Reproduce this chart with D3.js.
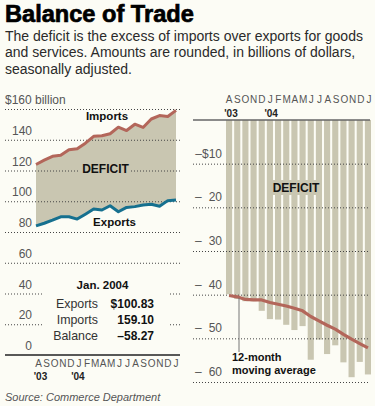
<!DOCTYPE html>
<html><head><meta charset="utf-8">
<script src="https://cdn.jsdelivr.net/npm/d3@7"></script>
<style>
html,body{margin:0;padding:0;background:#fcfcf5;}
svg{display:block;font-family:"Liberation Sans",Arial,Helvetica,sans-serif;}
</style></head>
<body>
<svg id="c" width="375" height="406"></svg>
<script>
// ---- data ----
const months = ["A","S","O","N","D","J","F","M","A","M","J","J","A","S","O","N","D","J"];
const yearLabels = [{i:0,t:"'03"},{i:5,t:"'04"}];
const imports = [123.9,126.7,129.2,129.9,133.5,134.2,137.8,142.2,142.6,143.9,148.2,146.0,150.1,148.0,153.5,155.7,155.1,159.1];
const exportsV = [84.0,85.7,87.7,89.9,89.9,88.4,91.6,94.9,94.3,97.1,93.2,96.0,96.5,97.6,98.0,96.7,100.4,100.83];
const balance = [-39.9,-41.0,-41.5,-41.5,-43.7,-45.6,-45.7,-46.9,-48.1,-47.2,-54.9,-50.3,-53.6,-51.6,-55.5,-58.9,-55.4,-58.27];
const movingAvg = [-40.2,-40.5,-41.1,-41.2,-41.2,-41.8,-42.2,-42.6,-43.1,-43.7,-45.0,-46.0,-47.0,-47.9,-49.1,-50.2,-51.2,-52.2];
const leftTicks = [0,20,40,60,80,100,120,140,160];
const rightTicks = [-10,-20,-30,-40,-50,-60];
const tableTitle = "Jan. 2004";
const tableLabels = ["Exports","Imports","Balance"];
const tableValues = ["$100.83","159.10","\u201358.27"];

// ---- styles ----
const bg = "#fcfcf5", fillC = "#c9c6b1", redC = "#b3665a", blueC = "#16708f", gridC = "#444", tickC = "#555";
const svg = d3.select("#c");
svg.append("rect").attr("width",375).attr("height",406).attr("fill",bg);

// ---- header ----
svg.append("text").attr("x",5).attr("y",22).attr("font-size",23.6).attr("font-weight","bold")
  .attr("fill","#000").attr("stroke","#000").attr("stroke-width",0.7).text("Balance of Trade");
const sub = ["The deficit is the excess of imports over exports for goods",
  "and services. Amounts are rounded, in billions of dollars,",
  "seasonally adjusted."];
sub.forEach((s,k)=>svg.append("text").attr("x",5).attr("y",40.5+k*16.8).attr("font-size",14).attr("fill","#2a2a2a").text(s));

// ---- left chart ----
const idx = d3.range(months.length);
const xL = d3.scalePoint().domain(idx).range([36,176]);
const xLlab = d3.scalePoint().domain(idx).range([38.5,176]);
const yL = d3.scaleLinear().domain([0,160]).range([355,109]);
const gL = svg.append("g");

gL.append("path").datum(idx)
  .attr("d", d3.area().x(i=>xL(i)).y0(i=>yL(exportsV[i])).y1(i=>yL(imports[i])))
  .attr("fill",fillC);

leftTicks.forEach(t=>{
  const y = yL(t);
  if (t===0) {
    gL.append("line").attr("x1",5).attr("x2",180).attr("y1",y).attr("y2",y).attr("stroke","#222").attr("stroke-width",1.5);
  } else if (t===20 || t===40) {
    [[5,42],[170,180]].forEach(s=>gL.append("line").attr("x1",s[0]).attr("x2",s[1]).attr("y1",y+0.5).attr("y2",y+0.5)
      .attr("stroke",gridC).attr("stroke-dasharray","1 2"));
  } else {
    gL.append("line").attr("x1",5).attr("x2",180).attr("y1",y+0.5).attr("y2",y+0.5)
      .attr("stroke",gridC).attr("stroke-dasharray","1 2");
  }
  if (t===160) {
    gL.append("text").attr("x",5).attr("y",y-5).attr("font-size",12).attr("fill",tickC).text("$160 billion");
  } else {
    gL.append("text").attr("x",32).attr("y",y-5).attr("text-anchor","end").attr("font-size",12).attr("fill",tickC).text(t);
  }
});

// DEFICIT label
gL.append("rect").attr("x",80).attr("y",162).attr("width",51).attr("height",14).attr("fill",fillC);
gL.append("text").attr("x",105.5).attr("y",173).attr("text-anchor","middle").attr("font-size",12).attr("font-weight","bold").attr("fill","#111").text("DEFICIT");

const lineL = arr => d3.line().x(i=>xL(i)).y(i=>yL(arr[i]))(idx);
gL.append("path").attr("d",lineL(imports)).attr("fill","none").attr("stroke",redC).attr("stroke-width",3).attr("stroke-linejoin","round");
gL.append("path").attr("d",lineL(exportsV)).attr("fill","none").attr("stroke",blueC).attr("stroke-width",3).attr("stroke-linejoin","round");

gL.append("text").attr("x",107).attr("y",119.5).attr("text-anchor","middle").attr("font-size",11.5).attr("font-weight","bold").attr("fill","#111").text("Imports");
gL.append("text").attr("x",114.5).attr("y",226).attr("text-anchor","middle").attr("font-size",11.5).attr("font-weight","bold").attr("fill","#111").text("Exports");

// table
gL.append("text").attr("x",102.5).attr("y",289).attr("text-anchor","middle").attr("font-size",11.5).attr("font-weight","bold").attr("fill","#111").text(tableTitle);
tableLabels.forEach((l,k)=>{
  gL.append("text").attr("x",98).attr("y",308+k*16).attr("text-anchor","end").attr("font-size",12.4).attr("fill","#333").text(l);
  gL.append("text").attr("x",154).attr("y",308+k*16).attr("text-anchor","end").attr("font-size",12).attr("font-weight","bold").attr("fill","#111").text(tableValues[k]);
});

// months
months.forEach((m,i)=>gL.append("text").attr("x",xLlab(i)).attr("y",366.5).attr("text-anchor","middle").attr("font-size",10).attr("fill",tickC).text(m));
yearLabels.forEach(d=>gL.append("text").attr("x",xLlab(d.i)+(d.i===0?2:-1)).attr("y",380).attr("text-anchor","middle").attr("font-size",10).attr("font-weight","bold").attr("fill","#222").text(d.t));

svg.append("text").attr("x",5).attr("y",401).attr("font-size",11).attr("font-style","italic").attr("fill","#555").text("Source: Commerce Department");

// ---- right chart ----
const xR = d3.scaleBand().domain(idx).range([226,371]).paddingInner(0.25).paddingOuter(0);
const xRlab = d3.scalePoint().domain(idx).range([229,369]);
const yR = d3.scaleLinear().domain([0,-60]).range([120,382]);
const gR = svg.append("g");

gR.selectAll("rect.bar").data(idx).join("rect").attr("class","bar")
  .attr("x",i=>xR(i)).attr("width",xR.bandwidth())
  .attr("y",yR(0)).attr("height",i=>yR(balance[i])-yR(0)).attr("fill",fillC);

rightTicks.forEach(t=>{
  const y = yR(t);
  gR.append("line").attr("x1",193).attr("x2",370).attr("y1",y+0.5).attr("y2",y+0.5).attr("stroke",gridC).attr("stroke-dasharray","1 2");
  if (t===-10) {
    gR.append("text").attr("x",222).attr("y",y-6).attr("text-anchor","end").attr("font-size",12).attr("fill",tickC).text("\u2013$10");
  } else {
    gR.append("text").attr("x",195).attr("y",y-6).attr("font-size",12).attr("fill",tickC).text("\u2013");
    gR.append("text").attr("x",222).attr("y",y-6).attr("text-anchor","end").attr("font-size",12).attr("fill",tickC).text(Math.abs(t));
  }
});

gR.append("line").attr("x1",193).attr("x2",370).attr("y1",yR(0)).attr("y2",yR(0)).attr("stroke","#666").attr("stroke-width",1.5);

// DEFICIT label
gR.append("rect").attr("x",270).attr("y",180).attr("width",52).attr("height",15).attr("fill",fillC);
gR.append("text").attr("x",296).attr("y",192).attr("text-anchor","middle").attr("font-size",12).attr("font-weight","bold").attr("fill","#111").text("DEFICIT");

// moving average
gR.append("path").attr("d",d3.line().x(i=>xR(i)+xR.bandwidth()/2).y(i=>yR(movingAvg[i]))(idx))
  .attr("fill","none").attr("stroke",redC).attr("stroke-width",3.2).attr("stroke-linejoin","round");
gR.append("line").attr("x1",239).attr("x2",239).attr("y1",yR(movingAvg[1])+1).attr("y2",352).attr("stroke","#777").attr("stroke-width",1);
gR.append("text").attr("x",232).attr("y",361).attr("font-size",11).attr("font-weight","bold").attr("fill","#111").text("12-month");
gR.append("text").attr("x",232).attr("y",374).attr("font-size",11).attr("font-weight","bold").attr("fill","#111").text("moving average");

// months
months.forEach((m,i)=>gR.append("text").attr("x",xRlab(i)).attr("y",103).attr("text-anchor","middle").attr("font-size",10).attr("fill",tickC).text(m));
yearLabels.forEach(d=>gR.append("text").attr("x",xRlab(d.i)+(d.i===0?2:1)).attr("y",117).attr("text-anchor","middle").attr("font-size",10).attr("font-weight","bold").attr("fill","#222").text(d.t));
</script>
</body></html>
